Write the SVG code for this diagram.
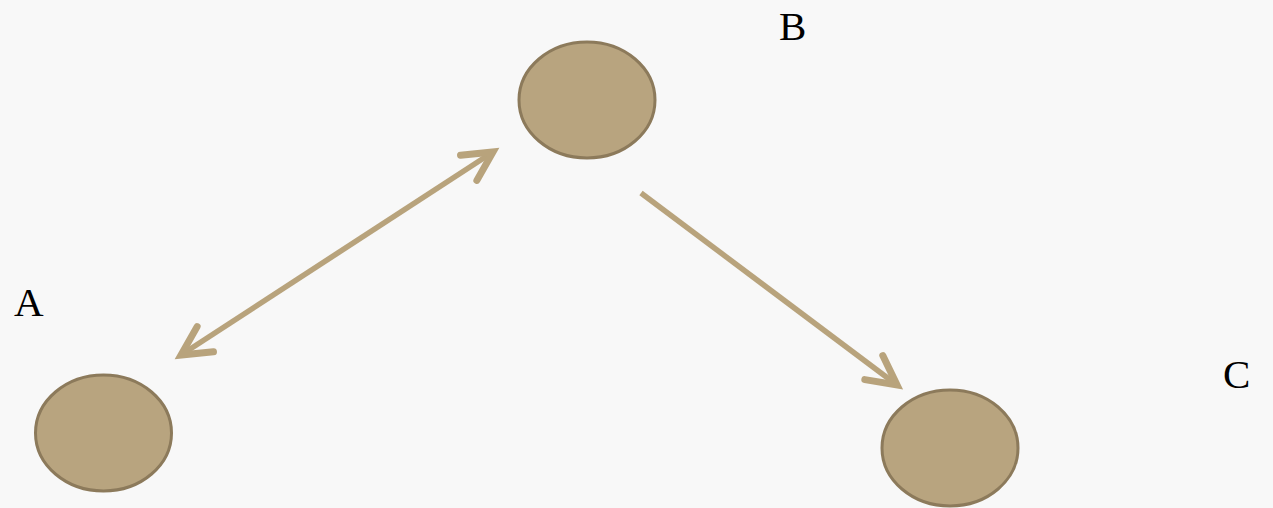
<svg xmlns="http://www.w3.org/2000/svg" width="1273" height="508" viewBox="0 0 1273 508">
<style>
.node{fill:#b8a47f;stroke:#8c7a5b;stroke-width:3}
.lbl{font-family:"Liberation Serif","DejaVu Serif",serif;font-size:41px;fill:#000}
.conn{stroke:#b8a37c;stroke-width:5.5;fill:none;stroke-linecap:butt}
</style>
<defs>
<marker id="arr" markerUnits="userSpaceOnUse" viewBox="-40 -25 50 50" markerWidth="50" markerHeight="50" refX="0" refY="0" orient="auto-start-reverse">
<path d="M -29,-15 L 0,0 L -29,15" fill="none" stroke="#b8a37c" stroke-width="7" stroke-linecap="round" stroke-linejoin="miter"/>
</marker>
</defs>
<rect width="1273" height="508" fill="#f8f8f8"/>
<g id="connectors">
<line class="conn" x1="181" y1="355" x2="493" y2="152" marker-start="url(#arr)" marker-end="url(#arr)"/>
<line class="conn" x1="641" y1="193" x2="897" y2="385" marker-end="url(#arr)"/>
</g>
<g id="node-A">
<ellipse class="node" cx="103.5" cy="433" rx="68" ry="58"/>
<text class="lbl" x="14" y="316">A</text>
</g>
<g id="node-B">
<ellipse class="node" cx="587" cy="100" rx="68" ry="58"/>
<text class="lbl" x="779" y="40">B</text>
</g>
<g id="node-C">
<ellipse class="node" cx="950" cy="448" rx="68" ry="58"/>
<text class="lbl" x="1223" y="388">C</text>
</g>
</svg>
